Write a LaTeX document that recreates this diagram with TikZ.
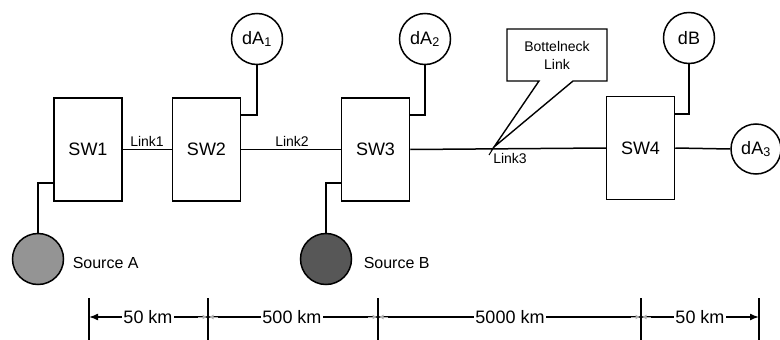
\documentclass[tikz,border=0pt]{standalone}
\usepackage{fontspec}
\setmainfont{Liberation Sans}
\usetikzlibrary{arrows.meta,calc}
\begin{document}
\begin{tikzpicture}[x=1pt,y=-1pt, line width=1.5pt,
  sw/.style={draw, minimum width=68pt, minimum height=103pt, inner sep=0pt, font=\fontsize{18}{20}\selectfont},
  dst/.style={draw, circle, minimum size=51pt, inner sep=0pt, font=\fontsize{18}{20}\selectfont},
  src/.style={draw, circle, minimum size=51pt, inner sep=0pt},
  lbl/.style={font=\fontsize{14}{16}\selectfont, inner sep=1pt},
  srclbl/.style={font=\fontsize{16}{18}\selectfont, inner sep=0pt, anchor=west},
  dimlbl/.style={font=\fontsize{18}{20}\selectfont, fill=white, inner sep=1.5pt},
  tickln/.style={line width=1.5pt},
  midtip/.style={gray!60, line width=1pt, -{Latex[length=5pt,width=5pt]}},
]
\useasboundingbox (0,0) rectangle (780,340);

% switches
\node[sw] (sw1) at (88,149.5) {SW1};
\node[sw] (sw2) at (206.5,149.5) {SW2};
\node[sw] (sw3) at (375.5,149.5) {SW3};
\node[sw] (sw4) at (640.5,148) {SW4};

% links
\draw (sw1.east) -- (sw2.west);
\draw (sw2.east) -- (sw3.west);
\draw (sw3.east) -- (sw4.west);
\node[lbl] (l1) at (147,141) {Link1};
\node[lbl] (l2) at (292,141) {Link2};
\node[lbl] (l3) at (510,158) {Link3};

% destinations
\node[dst] (dA1) at (257,39) {dA\textsubscript{1}};
\node[dst] (dA2) at (425,39) {dA\textsubscript{2}};
\node[dst] (dB)  at (689,38) {dB};
\node[dst, minimum size=50pt] (dA3) at (756,149) {dA\textsubscript{3}};
\draw (dA1.south) |- ([yshift=34.5pt]sw2.east);
\draw (dA2.south) |- ([yshift=34.5pt]sw3.east);
\draw (dB.south) |- ([yshift=34pt]sw4.east);
\draw (sw4.east) -- (dA3.west);

% sources
\node[src, fill=black!42] (srcA) at (38,259) {};
\node[src, fill=black!66] (srcB) at (326,259) {};
\draw (srcA.north) |- ([yshift=-33.5pt]sw1.west);
\draw (srcB.north) |- ([yshift=-33.5pt]sw3.west);
\node[srclbl] (la) at (72,263) {Source A};
\node[srclbl] (lb) at (363,263) {Source B};

% bottleneck callout
\node[lbl, align=center, font=\fontsize{14}{18}\selectfont] (bn) at (557,55) {Bottelneck\\Link};
\coordinate (tip) at (494,147);
\draw[line width=1.4pt, line join=miter]
  (507,29) -- (607,29) -- (607,81) -- (573,81) -- (tip) -- (539,81) -- (507,81) -- cycle;
\draw[line width=1pt] (tip) -- (489,155);

% dimension line
\coordinate (t0) at (89,317);
\coordinate (t1) at (208,317);
\coordinate (t2) at (378,317);
\coordinate (t3) at (641,317);
\coordinate (t4) at (759,317);
\foreach \t in {t0,t1,t2,t3,t4}{
  \draw[tickln] ([yshift=19pt]\t) -- ([yshift=-23pt]\t);
}
\draw[line width=1.5pt, {Latex[length=9pt,width=7pt]}-{Latex[length=9pt,width=7pt]}] (t0) -- (t4);
\foreach \t in {t1,t2,t3}{
  \draw[midtip] ([xshift=-10pt]\t) -- ([xshift=-0.5pt]\t);
  \draw[midtip] ([xshift=10pt]\t) -- ([xshift=0.5pt]\t);
}
\node[dimlbl] (d1) at (148,317) {50 km};
\node[dimlbl] (d2) at (292,317) {500 km};
\node[dimlbl] (d3) at (510,317) {5000 km};
\node[dimlbl] (d4) at (700,317) {50 km};
\end{tikzpicture}
\end{document}
